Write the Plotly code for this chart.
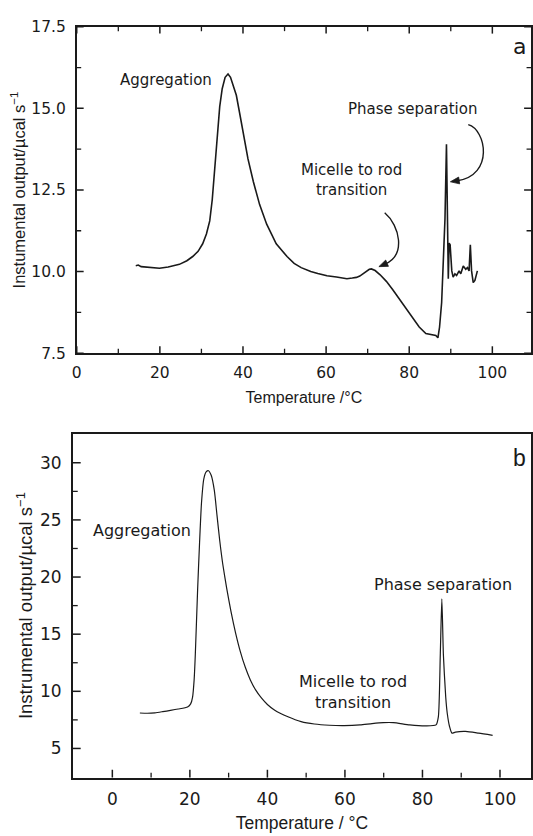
import math
import plotly.graph_objects as go

# ---- Panel (a): DSC trace ----
temp_a = [14.2, 14.8, 15.5, 17.0, 19.9, 22.0, 24.7, 26.5, 27.9, 29.2, 30.3, 31.2,
          32.0, 32.6, 33.2, 33.8, 34.4, 35.0, 35.7, 36.4, 37.0, 37.7, 38.4, 39.2,
          40.0, 41.2, 42.5, 44.0, 45.7, 48.0, 50.6, 52.3, 54.0, 56.3, 58.0, 60.2,
          62.5, 64.2, 65.0, 66.3, 67.3, 68.1, 69.3, 70.4, 70.9, 71.8, 73.0, 74.5,
          76.0, 78.0, 80.0, 82.4, 84.0, 85.5, 86.4, 86.9, 87.3, 87.8, 88.1, 88.6,
          88.96, 89.2, 89.4, 89.6, 89.84, 90.24, 90.56, 91.0, 91.4, 92.0, 92.4,
          93.0, 93.6, 94.0, 94.4, 94.7, 95.0, 95.4, 95.8, 96.4]
signal_a = [10.18, 10.2, 10.15, 10.14, 10.1, 10.14, 10.22, 10.33, 10.46, 10.62, 10.85, 11.15,
            11.55, 12.2, 13.05, 14.1, 15.05, 15.6, 15.95, 16.05, 15.95, 15.7, 15.4, 14.85,
            14.25, 13.45, 12.75, 12.05, 11.45, 10.85, 10.46, 10.25, 10.12, 10.0, 9.94, 9.87,
            9.83, 9.81, 9.78, 9.8, 9.82, 9.86, 9.96, 10.07, 10.08, 10.03, 9.9, 9.7,
            9.45, 9.1, 8.75, 8.3, 8.1, 8.05, 8.04, 7.97, 8.3, 9.05, 10.15, 11.6,
            13.9, 11.6, 9.78, 10.87, 10.82, 10.02, 9.83, 9.93, 9.88, 10.02, 9.93,
            10.17, 10.07, 10.12, 10.02, 10.82, 10.02, 9.66, 9.73, 10.02]

# ---- Panel (b): DSC trace ----
temp_b = [7.1, 9.0, 11.0, 13.0, 15.0, 17.0, 19.4, 20.2, 20.7, 21.1, 21.4, 22.0,
          22.5, 23.0, 23.6, 24.2, 24.8, 25.5, 26.3, 27.0, 27.7, 28.5, 29.5, 30.6,
          31.8, 33.0, 34.3, 35.6, 37.0, 38.5, 40.0, 41.9, 45.3, 48.7, 52.1, 56.0,
          59.8, 63.9, 67.0, 69.9, 72.5, 76.7, 80.9, 83.5, 84.1, 84.6, 85.0, 85.4,
          86.0, 86.4, 87.0, 87.6, 88.5, 91.1, 94.5, 98.1]
signal_b = [8.1, 8.08, 8.12, 8.22, 8.33, 8.45, 8.63, 8.9, 9.5, 11.0, 13.2, 18.9,
            23.0, 26.5, 28.6, 29.2, 29.3, 28.9, 27.6, 25.4, 23.2, 21.1, 19.0, 17.0,
            15.1, 13.5, 12.1, 11.0, 10.1, 9.4, 8.85, 8.34, 7.77, 7.35, 7.14, 7.03,
            7.0, 7.06, 7.18, 7.26, 7.26, 7.06, 6.97, 7.06, 7.77, 13.2, 18.1, 13.2,
            9.5, 8.06, 6.9, 6.34, 6.43, 6.49, 6.34, 6.15]

# Tick positions (major, minor) for each axis
xticks_a, xminor_a = [0, 20, 40, 60, 80, 100], [10, 30, 50, 70, 90]
yticks_a, yminor_a = [7.5, 10.0, 12.5, 15.0, 17.5], [8.75, 11.25, 13.75, 16.25]
xticks_b, xminor_b = [0, 20, 40, 60, 80, 100], [10, 30, 50, 70, 90]
yticks_b, yminor_b = [5, 10, 15, 20, 25, 30], [7.5, 12.5, 17.5, 22.5, 27.5]

ink = "#1a1a1a"
note_font = dict(family="DejaVu Sans", color=ink)

W, H = 533, 836
dom_xa, dom_ya = [0.1364, 1.0], [0.5793, 0.9783]
rng_xa, rng_ya = [0, 109.3], [7.5, 17.5]
dom_xb, dom_yb = [0.1289, 1.0], [0.0604, 0.4809]
rng_xb, rng_yb = [-10.2, 108], [2.45, 32.55]

fig = go.Figure()
fig.add_trace(go.Scatter(x=temp_a, y=signal_a, mode="lines",
                         line=dict(color=ink, width=1.6), xaxis="x", yaxis="y",
                         showlegend=False, hoverinfo="skip"))
fig.add_trace(go.Scatter(x=temp_b, y=signal_b, mode="lines",
                         line=dict(color=ink, width=1.2, shape="spline", smoothing=0.6),
                         xaxis="x2", yaxis="y2", showlegend=False, hoverinfo="skip"))


def axis(domain, rng, anchor, mirror, tickvals, size, standoff, title, title_size,
         title_gap, **kw):
    return dict(showgrid=False, zeroline=False, showline=True, linecolor=ink,
                linewidth=1.6, ticks="", domain=domain, range=rng, anchor=anchor,
                mirror=mirror, tickmode="array", tickvals=tickvals,
                tickfont=dict(family="DejaVu Sans", size=size, color=ink),
                ticklabelstandoff=standoff,
                title=dict(text=title, standoff=title_gap,
                           font=dict(family="Liberation Sans", size=title_size, color=ink)),
                **kw)


fig.update_layout(
    width=W, height=H, autosize=False,
    margin=dict(l=0, r=0, t=0, b=0),
    paper_bgcolor="white", plot_bgcolor="white",
    xaxis=axis(dom_xa, rng_xa, "y", True, xticks_a, 15.5, 4,
               "Temperature /°C", 16, 11),
    yaxis=axis(dom_ya, rng_ya, "x", True, yticks_a, 15.5, 6,
               "Instumental output/µcal s<sup>−1</sup>", 16.5, 2, tickformat=".1f"),
    xaxis2=axis(dom_xb, rng_xb, "y2", True, xticks_b, 17, 5,
                "Temperature / °C", 17.5, 9),
    yaxis2=axis(dom_yb, rng_yb, "x2", True, yticks_b, 17, 6,
                "Instrumental output/µcal s<sup>−1</sup>", 18.5, 2),
)


# Inward tick marks, placed at the tick values along each axis edge
def add_ticks(xr, yr, dom_x, dom_y, xmaj, xmin, ymaj, ymin, major_len, minor_len, mirror):
    w_px = (dom_x[1] - dom_x[0]) * W
    h_px = (dom_y[1] - dom_y[0]) * H
    for vals, length, width in ((xmaj, major_len, 1.5), (xmin, minor_len, 1.3)):
        edges = [(0, 1)] + ([(1, -1)] if mirror else [])
        for v in vals:
            for base, sign in edges:
                fig.add_shape(type="line", xref=xr, yref=yr + " domain",
                              x0=v, x1=v, y0=base, y1=base + sign * length / h_px,
                              line=dict(color=ink, width=width))
    for vals, length, width in ((ymaj, major_len, 1.5), (ymin, minor_len, 1.3)):
        edges = [(0, 1)] + ([(1, -1)] if mirror else [])
        for v in vals:
            for base, sign in edges:
                fig.add_shape(type="line", xref=xr + " domain", yref=yr,
                              y0=v, y1=v, x0=base, x1=base + sign * length / w_px,
                              line=dict(color=ink, width=width))


add_ticks("x", "y", dom_xa, dom_ya, xticks_a, xminor_a, yticks_a, yminor_a, 7, 4.5, True)
add_ticks("x2", "y2", dom_xb, dom_yb, xticks_b, xminor_b, yticks_b, yminor_b, 8, 5, False)

# Text labels in data coordinates
labels = [
    ("x", "y", 21.5, 15.88, "Aggregation", 15),
    ("x", "y", 80.9, 14.98, "Phase separation", 15),
    ("x", "y", 66.2, 12.8, "Micelle to rod<br>transition", 15),
    ("x", "y", 106.5, 16.89, "a", 22),
    ("x2", "y2", 7.66, 24.04, "Aggregation", 16),
    ("x2", "y2", 85.4, 19.33, "Phase separation", 16),
    ("x2", "y2", 62.0, 9.98, "Micelle to rod<br>transition", 16),
]
for xr, yr, xv, yv, txt, size in labels:
    fig.add_annotation(xref=xr, yref=yr, x=xv, y=yv, text=txt, showarrow=False,
                       font=dict(**note_font, size=size), align="center",
                       xanchor="center", yanchor="middle")

fig.add_annotation(xref="x2", yref="y2", x=105.1, y=30.46, text="b", showarrow=False,
                   font=dict(family="Liberation Sans", size=23, color=ink),
                   xanchor="center", yanchor="middle")

# Curved pointer arrows in panel (a): cubic Bezier stem plus a filled head
sx = (dom_xa[1] - dom_xa[0]) * W / (rng_xa[1] - rng_xa[0])   # px per degree
sy = (dom_ya[1] - dom_ya[0]) * H / (rng_ya[1] - rng_ya[0])   # px per unit
arrows = [
    ((74.1, 11.8), (77.8, 11.4), (79.2, 10.5), (72.7, 10.15)),
    ((94.2, 14.5), (98.5, 14.35), (100.5, 12.95), (89.9, 12.75)),
]
head_len, head_w = 9.0, 7.0
for p0, c1, c2, p3 in arrows:
    dx, dy = (p3[0] - c2[0]) * sx, (p3[1] - c2[1]) * sy
    n = math.hypot(dx, dy)
    ux, uy = dx / n, dy / n
    bx, by = p3[0] * sx - ux * head_len, p3[1] * sy - uy * head_len
    lx, ly = bx - uy * head_w / 2, by + ux * head_w / 2
    rx, ry = bx + uy * head_w / 2, by - ux * head_w / 2
    stem_end = (bx / sx + ux * 2 / sx, by / sy + uy * 2 / sy)
    stem = (f"M {p0[0]},{p0[1]} C {c1[0]},{c1[1]} {c2[0]},{c2[1]} "
            f"{stem_end[0]:.3f},{stem_end[1]:.3f}")
    fig.add_shape(type="path", path=stem, xref="x", yref="y",
                  line=dict(color=ink, width=1.4))
    head = (f"M {p3[0]},{p3[1]} L {lx / sx:.3f},{ly / sy:.3f} "
            f"L {rx / sx:.3f},{ry / sy:.3f} Z")
    fig.add_shape(type="path", path=head, xref="x", yref="y",
                  line=dict(color=ink, width=0.8), fillcolor=ink)

fig.write_html("out.html")
